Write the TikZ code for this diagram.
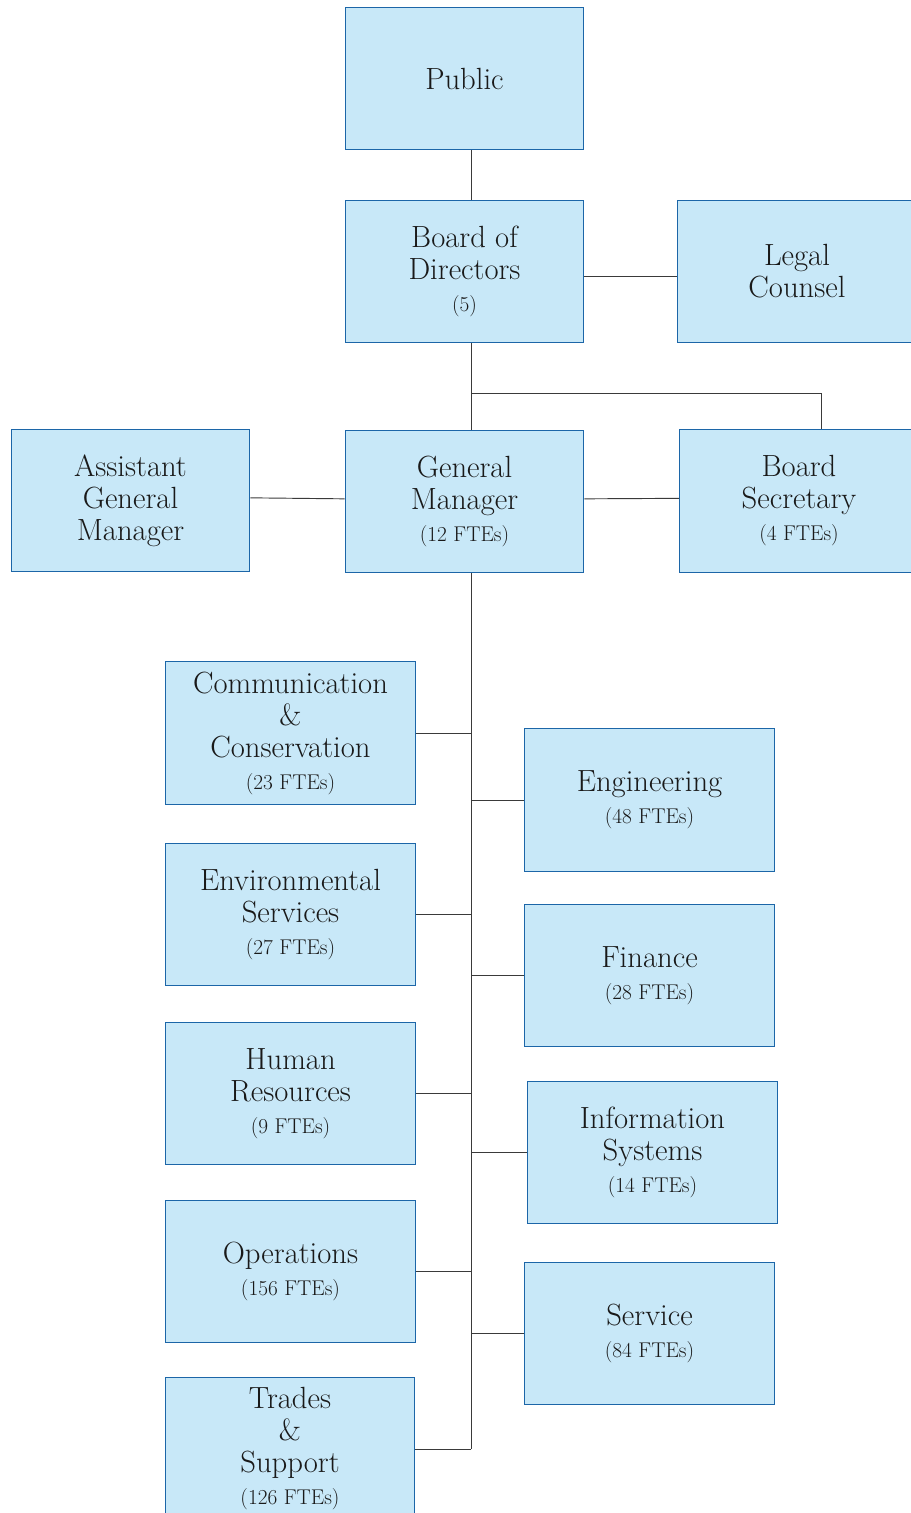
\documentclass[tikz,border=0pt]{standalone}
\usepackage{xcolor}
\usepackage{tikz}
\usetikzlibrary{positioning,calc}
\definecolor{orgblue}{HTML}{1C66A8}
\definecolor{orgfill}{HTML}{C8E8F8}
\definecolor{orglink}{HTML}{3A3A3A}
\newcommand{\fte}[1]{{\fontsize{16}{19}\selectfont(#1)}}

\begin{document}
\begin{tikzpicture}[x=0.75pt, y=-0.75pt,
  every node/.style={font=\fontsize{23}{24}\selectfont, align=center, text=black!90},
  unit/.style={draw=orgblue, line width=0.9pt, fill=orgfill, minimum width=179pt, minimum height=107pt, inner sep=2pt},
  dept/.style={unit, minimum width=187pt},
  link/.style={draw=orglink, line width=0.7pt}]
  \useasboundingbox (0,0) rectangle (910,1513);
  \coordinate (trunk) at (471,0);
  \coordinate (split) at (471,393);

  % top of the chart
  \node[unit] (public) at (464.5,78.5) {Public};
  \node[unit] (board) at (464.5,271.5) {Board of\\Directors\\\fte{5}};
  \node[unit] (legal) at (797,271.5) {Legal\\Counsel};
  \node[unit] (gm) at (464.5,501.5) {General\\Manager\\\fte{12 FTEs}};
  \node[unit] (agm) at (130.5,500.5) {Assistant\\General\\Manager};
  \node[unit] (secretary) at (799,501) {Board\\Secretary\\\fte{4 FTEs}};

  % departments
  \node[dept] (comm) at (290.5,733) {Communication\\\&\\Conservation\\\fte{23 FTEs}};
  \node[dept] (eng) at (649.5,800) {Engineering\\\fte{48 FTEs}};
  \node[dept] (env) at (290.5,914.5) {Environmental\\Services\\\fte{27 FTEs}};
  \node[dept] (fin) at (649.5,975.5) {Finance\\\fte{28 FTEs}};
  \node[dept] (hr) at (290.5,1093.5) {Human\\Resources\\\fte{9 FTEs}};
  \node[dept] (is) at (652.5,1152.5) {Information\\Systems\\\fte{14 FTEs}};
  \node[dept] (ops) at (290.5,1271.5) {Operations\\\fte{156 FTEs}};
  \node[dept] (svc) at (649.5,1333.5) {Service\\\fte{84 FTEs}};
  \node[dept] (trades) at (290,1449) {Trades\\\&\\Support\\\fte{126 FTEs}};

  \draw[link] (public.south -| trunk) -- (board.north -| trunk);
  \draw[link] ([yshift=-4pt]board.east) -- ([yshift=-4pt]legal.west);
  \draw[link] (board.south -| trunk) -- (gm.north -| trunk);
  \draw[link] (split) -| ([xshift=16.5pt]secretary.north);
  \draw[link] ([yshift=2pt]agm.east) -- ([yshift=2pt]gm.west);
  \draw[link] ([yshift=2pt]gm.east) -- ([yshift=2pt]secretary.west);
  \draw[link] (gm.south -| trunk) -- (trades.east -| trunk);
  \foreach \d in {comm,env,hr,ops,trades,eng,fin,is,svc}
    \draw[link] (\d) -- (\d -| trunk);
\end{tikzpicture}
\end{document}
